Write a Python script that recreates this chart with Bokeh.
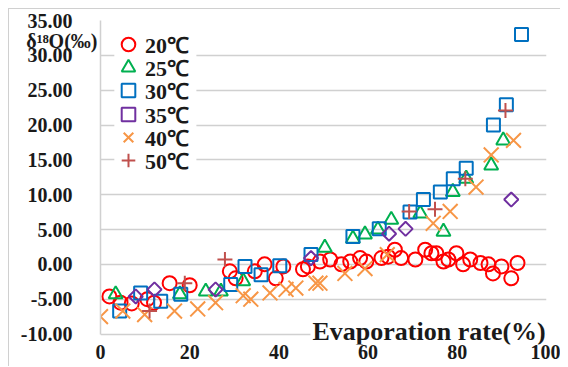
from bokeh.plotting import figure
from bokeh.models import (Range1d, FixedTicker, NumeralTickFormatter, Legend, LegendItem, Label,
                          BoxAnnotation, LinearAxis)
from bokeh.embed import file_html
from bokeh.resources import INLINE

# ---- data ----
x20 = [2, 4.5, 7, 10.5, 12, 15.5, 20, 29, 30.3, 34.6, 36.8, 39.3, 41, 45.4, 46.5, 49.2, 51.5, 54, 56, 58.2,
       59.6, 63, 64.5, 66, 67.4, 70.6, 72.8, 74.2, 75.3, 76.9, 78, 79.8, 81.3, 82.9, 85.2, 87, 88, 89.9, 92.1, 93.5]
y20 = [-4.6, -5.5, -5.6, -5.0, -5.5, -2.7, -3.0, -1.0, -2.0, -1.0, 0.0, -2.0, -0.3, -0.7, -0.3, 0.4, 0.7, 0.0, 0.4, 0.9,
       0.4, 0.9, 1.1, 2.1, 0.9, 0.7, 2.1, 1.6, 1.6, 0.4, 0.7, 1.6, 0.0, 0.7, 0.2, 0.0, -1.3, -0.3, -2.0, 0.2]

x25 = [3.4, 17.8, 23.6, 27, 32, 50.3, 56.6, 59.3, 62.2, 65.2, 71.7, 76.9, 79, 82, 87.6, 90.3]
y25 = [-4.3, -4.3, -3.9, -3.9, -2.4, 2.4, 3.7, 4.3, 5.0, 6.4, 7.3, 4.7, 10.4, 12.3, 14.2, 17.8]

x30 = [4.3, 9, 13.5, 18, 29.2, 32.4, 36, 40.2, 47.2, 56.6, 62.5, 69.4, 72.4, 76.2, 79.1, 82, 88.1, 91, 94.4]
y30 = [-6.7, -4.1, -5.3, -4.3, -2.9, -0.3, -1.5, -0.2, 1.4, 4.0, 5.1, 7.5, 9.3, 10.4, 12.3, 13.8, 20.0, 22.9, 33.0]

x35 = [7.9, 12.1, 25.8, 47.2, 64.7, 68.4, 92.1]
y35 = [-4.6, -3.6, -3.6, 0.9, 4.4, 5.1, 9.3]

x40 = [0, 5, 9.9, 16.6, 21.8, 25.8, 32, 33.7, 38, 41.6, 43.8, 48.3, 49.2, 54.8, 59.3, 64.3, 74.6, 78.4, 84.2, 87.6, 92.6]
y40 = [-7.5, -6.7, -7.2, -6.7, -6.4, -5.5, -4.5, -5.0, -4.1, -3.6, -3.4, -2.7, -2.7, -1.3, -0.6, 1.4, 5.9, 7.6, 11.1, 15.7, 17.8]

x50 = [11, 18.9, 27.9, 69.2, 75, 81.8, 90.8]
y50 = [-6.7, -2.7, 0.7, 7.6, 7.9, 12.3, 22.1]

series_labels = ["20℃", "25℃", "30℃", "35℃", "40℃", "50℃"]
x_ticks = [0, 20, 40, 60, 80, 100]
y_ticks = [-10, -5, 0, 5, 10, 15, 20, 25, 30, 35]
y_title = "δ¹⁸O(‰)"
x_title = "Evaporation rate(%)"

SERIF = "Liberation Serif"
GRID = "#d0d0d0"
TXT = "#1a1a1a"

FRAME_H = 324
p = figure(width=552, height=358, output_backend="svg", toolbar_location=None,
           x_range=Range1d(0, 100), y_range=Range1d(-11.5, 35),
           min_border_left=91, min_border_right=15, min_border_top=11, min_border_bottom=23,
           background_fill_color="white", border_fill_color="white")
p.styles = {"margin-left": "8px", "margin-top": "8px",
            "border-top": "1px solid #d0d0d0", "border-left": "1px solid #d0d0d0"}
p.outline_line_color = None

p.xaxis.ticker = FixedTicker(ticks=x_ticks)
p.yaxis.ticker = FixedTicker(ticks=y_ticks)
p.ygrid.ticker = FixedTicker(ticks=y_ticks)
p.yaxis.formatter = NumeralTickFormatter(format="0.00")
p.yaxis.bounds = (y_ticks[0], y_ticks[-1])
for ax in (p.xaxis, p.yaxis):
    ax.major_tick_line_color = None
    ax.minor_tick_line_color = None
    ax.major_label_text_font = SERIF
    ax.major_label_text_font_style = "bold"
    ax.major_label_text_font_size = "20px"
    ax.major_label_text_color = TXT
p.xaxis.axis_line_color = None
p.xaxis.major_label_standoff = -6
p.yaxis.axis_line_color = GRID
p.yaxis.axis_line_width = 1.5
p.yaxis.major_label_standoff = 22
p.xgrid.grid_line_color = None
p.ygrid.grid_line_color = GRID
p.ygrid.grid_line_width = 1.5

# y title as the single tick label of a second (line-less) left axis
tax = LinearAxis(ticker=FixedTicker(ticks=[32]), major_label_overrides={32: y_title},
                 axis_line_color=None, major_tick_line_color=None, minor_tick_line_color=None,
                 major_label_standoff=-86, major_label_text_font=SERIF,
                 major_label_text_font_style="bold", major_label_text_font_size="20px",
                 major_label_text_color=TXT)
p.add_layout(tax, "left")

r20 = p.scatter(x20, y20, marker="circle", size=14, fill_color=None, line_color="#FF0000", line_width=2)
r25 = p.scatter(x25, y25, marker="triangle", size=14, fill_color=None, line_color="#00B050", line_width=2)
r30 = p.scatter(x30, y30, marker="square", size=13, fill_color=None, line_color="#0070C0", line_width=2)
r35 = p.scatter(x35, y35, marker="square", angle=0.785398, size=10, fill_color=None, line_color="#7030A0", line_width=2)
r40 = p.scatter(x40, y40, marker="x", size=21, fill_color=None, line_color="#F79646", line_width=2)
r50 = p.scatter(x50, y50, marker="cross", size=15, fill_color=None, line_color="#C0504D", line_width=2)
renderers = [r20, r25, r30, r35, r40, r50]

# white legend box covering the grid lines
p.add_layout(BoxAnnotation(left=3.1, right=21.5, top=34.6, bottom=10.8,
                           fill_color="white", fill_alpha=1.0, line_color=None))

# one small legend per series so that rows can sit close together with large markers
GLYPH = 34
ROW = 23.2
for i, (lab, r) in enumerate(zip(series_labels, renderers)):
    center = 24 + ROW * i
    lg = Legend(items=[LegendItem(label=lab, renderers=[r])],
                location=(11, round(FRAME_H - center - GLYPH / 2)), orientation="vertical",
                margin=0, padding=0, spacing=0,
                glyph_width=GLYPH, glyph_height=GLYPH, label_standoff=0,
                background_fill_alpha=0.0, border_line_color=None,
                label_text_font=SERIF, label_text_font_style="bold", label_text_font_size="22px",
                label_text_color=TXT)
    p.add_layout(lg)

# x-axis title inside the bottom-right corner of the frame
p.add_layout(Label(x=210, y=13, x_units="screen", y_units="screen", text=x_title,
                   text_font=SERIF, text_font_style="bold", text_font_size="26px",
                   text_color=TXT, text_baseline="alphabetic", padding=2,
                   background_fill_color="white", background_fill_alpha=1.0))

open("out.html", "w").write(file_html(p, INLINE))
